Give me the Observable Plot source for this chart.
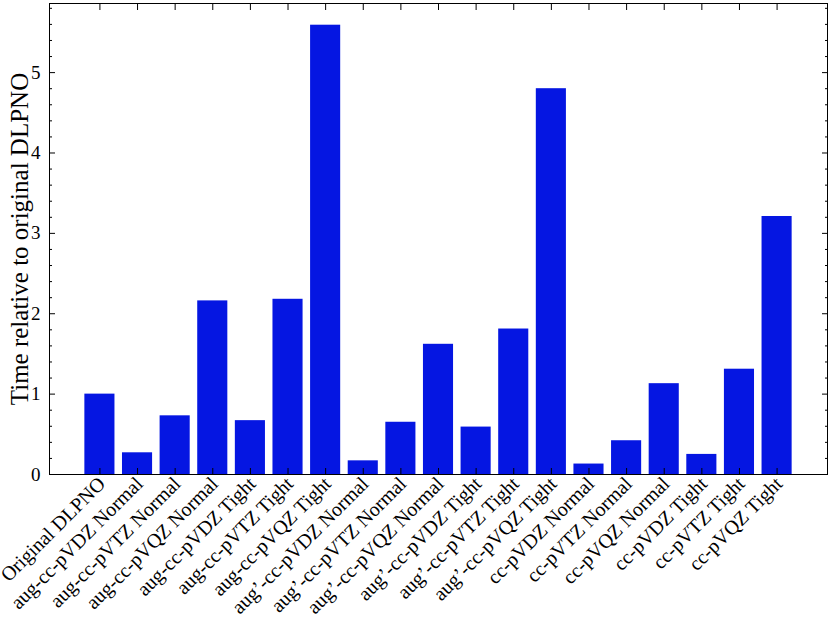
<!DOCTYPE html>
<html><head><meta charset="utf-8">
<script src="https://cdn.jsdelivr.net/npm/d3@7"></script>
<script src="https://cdn.jsdelivr.net/npm/@observablehq/plot@0.6"></script>
<style>html,body{margin:0;padding:0;background:#fff}</style>
</head><body><div id="chart"></div>
<script>
const categories = [
  "Original DLPNO",
  "aug-cc-pVDZ Normal", "aug-cc-pVTZ Normal", "aug-cc-pVQZ Normal",
  "aug-cc-pVDZ Tight", "aug-cc-pVTZ Tight", "aug-cc-pVQZ Tight",
  "aug’-cc-pVDZ Normal", "aug’-cc-pVTZ Normal", "aug’-cc-pVQZ Normal",
  "aug’-cc-pVDZ Tight", "aug’-cc-pVTZ Tight", "aug’-cc-pVQZ Tight",
  "cc-pVDZ Normal", "cc-pVTZ Normal", "cc-pVQZ Normal",
  "cc-pVDZ Tight", "cc-pVTZ Tight", "cc-pVQZ Tight"
];
const values = [
  1.00,
  0.27, 0.73, 2.16,
  0.67, 2.18, 5.59,
  0.17, 0.65, 1.62,
  0.59, 1.81, 4.80,
  0.13, 0.42, 1.13,
  0.25, 1.31, 3.21
];
const yTicks = [0, 1, 2, 3, 4, 5];
const yMinorTicks = [0.2,0.4,0.6,0.8,1.2,1.4,1.6,1.8,2.2,2.4,2.6,2.8,3.2,3.4,3.6,3.8,4.2,4.4,4.6,4.8,5.2,5.4,5.6,5.8];
const yLabel = "Time relative to original DLPNO";

const data = categories.map((c, i) => ({name: c, value: values[i]}));
const FONT = "Liberation Serif";
const blank = () => "";

const chart = Plot.plot({
  width: 830, height: 621,
  marginLeft: 49, marginRight: 3, marginTop: 3, marginBottom: 147,
  style: {fontFamily: FONT, background: "#fff", color: "#000"},
  x: {type: "band", domain: categories, paddingInner: 0.2, paddingOuter: 0.94, round: false, label: null},
  y: {domain: [0, 5.86], label: null},
  marks: [
    Plot.barY(data, {x: "name", y: "value", fill: "#0516e2"}),
    Plot.frame({stroke: "#000", strokeWidth: 1}),
    // inward ticks
    Plot.axisY(yTicks, {anchor: "left", tickSize: 6, dx: 6, tickFormat: blank, label: null}),
    Plot.axisY(yMinorTicks, {anchor: "left", tickSize: 3, dx: 3, tickFormat: blank, label: null}),
    Plot.axisY(yTicks, {anchor: "right", tickSize: 6, dx: -6, tickFormat: blank, label: null}),
    Plot.axisY(yMinorTicks, {anchor: "right", tickSize: 3, dx: -3, tickFormat: blank, label: null}),
    Plot.axisX({anchor: "bottom", tickSize: 6, dy: -6, tickFormat: blank, label: null}),
    Plot.axisX({anchor: "top", tickSize: 6, dy: 6, tickFormat: blank, label: null}),
    // tick labels
    Plot.axisY(yTicks, {anchor: "left", tickSize: 0, tickPadding: 9, fontSize: 19, tickFormat: d => String(d), label: null}),
    Plot.axisX({anchor: "bottom", tickSize: 0, tickPadding: 6, dx: 2, tickRotate: -45, fontSize: 20, label: null}),
    // y label
    Plot.text([yLabel], {frameAnchor: "left", rotate: -90, dx: -30, fontSize: 25, textAnchor: "middle"})
  ]
});
document.getElementById("chart").appendChild(chart);
</script>
</body></html>
